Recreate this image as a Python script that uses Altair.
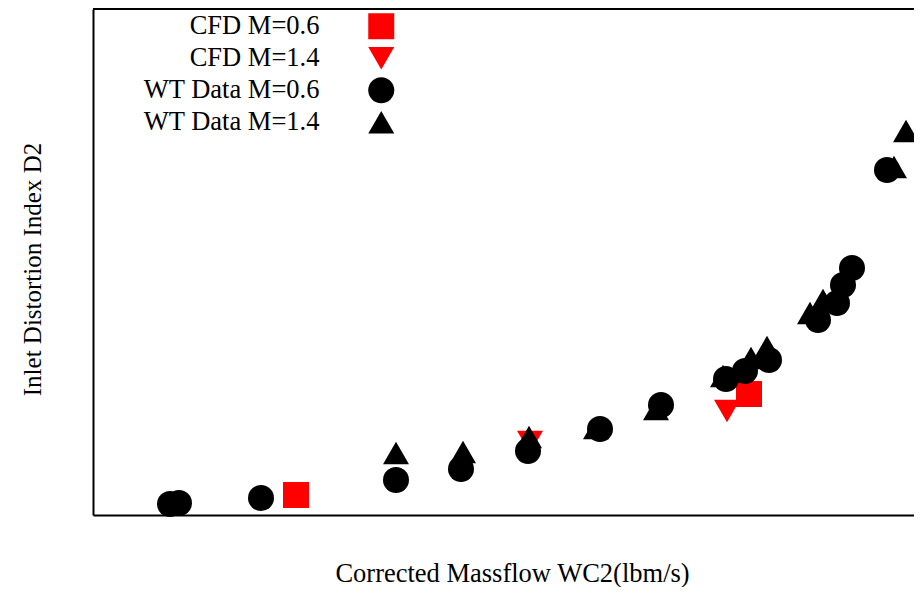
import altair as alt
import pandas as pd

# Series (arbitrary axis units; the chart shows no tick labels)
cfd06_x = [203, 656]
cfd06_y = [20, 121]
cfd14_x = [437, 634]
cfd14_y = [73, 104]
wt06_x = [77, 86, 168, 303, 368, 435, 507, 568, 633, 652, 676, 725, 744, 750, 759, 794]
wt06_y = [11, 12, 17, 35, 46, 64, 86, 110, 136, 144, 155, 195, 212, 230, 247, 345]
wt14_x = [303, 370, 436, 503, 563, 630, 658, 674, 717, 730, 801, 813]
wt14_y = [62, 63, 78, 87, 106, 139, 157, 168, 202, 215, 348, 384]

series = ["CFD M=0.6", "CFD M=1.4", "WT Data M=0.6", "WT Data M=1.4"]
colors = ["#ff0000", "#ff0000", "#000000", "#000000"]
shapes = ["square", "triangle-down", "circle", "triangle-up"]

rows = []
for name, xs, ys in [(series[0], cfd06_x, cfd06_y), (series[1], cfd14_x, cfd14_y),
                     (series[2], wt06_x, wt06_y), (series[3], wt14_x, wt14_y)]:
    for x, y in zip(xs, ys):
        rows.append({"x": x, "y": y, "series": name})
df = pd.DataFrame(rows)

W, H = 821, 506
FONT = "Liberation Serif"

points = alt.Chart(df).mark_point(filled=True, size=676, opacity=1, strokeWidth=0).encode(
    x=alt.X("x:Q", scale=alt.Scale(domain=[0, W], nice=False, zero=False),
            axis=alt.Axis(title="Corrected Massflow WC2(lbm/s)", labels=False, ticks=False, grid=False,
                          domain=True, domainColor="black", domainWidth=2,
                          titleFont=FONT, titleFontSize=26.5, titleFontWeight="normal", titleColor="black",
                          titleX=419, titleY=66, titleAlign="center", titleBaseline="alphabetic")),
    y=alt.Y("y:Q", scale=alt.Scale(domain=[0, H], nice=False, zero=False),
            axis=alt.Axis(title="Inlet Distortion Index D2", labels=False, ticks=False, grid=False,
                          domain=True, domainColor="black", domainWidth=2,
                          titleFont=FONT, titleFontSize=25, titleFontWeight="normal", titleColor="black",
                          titleX=-61, titleY=260, titleAngle=270, titleAlign="center", titleBaseline="middle")),
    color=alt.Color("series:N", scale=alt.Scale(domain=series, range=colors),
                    legend=alt.Legend(title=None, orient="none", legendX=275, legendY=4,
                                      labelFont=FONT, labelFontSize=26.5, labelColor="black",
                                      labelAlign="right", labelBaseline="middle", labelLimit=0,
                                      labelOffset={"expr": "-75"},
                                      symbolSize=676, symbolStrokeWidth=0, symbolOpacity=1,
                                      rowPadding=5, padding=0)),
    shape=alt.Shape("series:N", scale=alt.Scale(domain=series, range=shapes)),
)

top_line = alt.Chart(pd.DataFrame({"a": [0]})).mark_rule(color="black", strokeWidth=2).encode(
    x=alt.value(0), x2=alt.value(W), y=alt.value(0)
)

chart = alt.layer(top_line, points).properties(
    width=W, height=H,
    autosize=alt.AutoSizeParams(type="none"),
    padding={"left": 85, "top": 1, "right": 0, "bottom": 72},
    background="white",
).configure_view(strokeWidth=0, stroke=None)

chart.save("out.html", embed_options={"renderer": "svg", "actions": False})
